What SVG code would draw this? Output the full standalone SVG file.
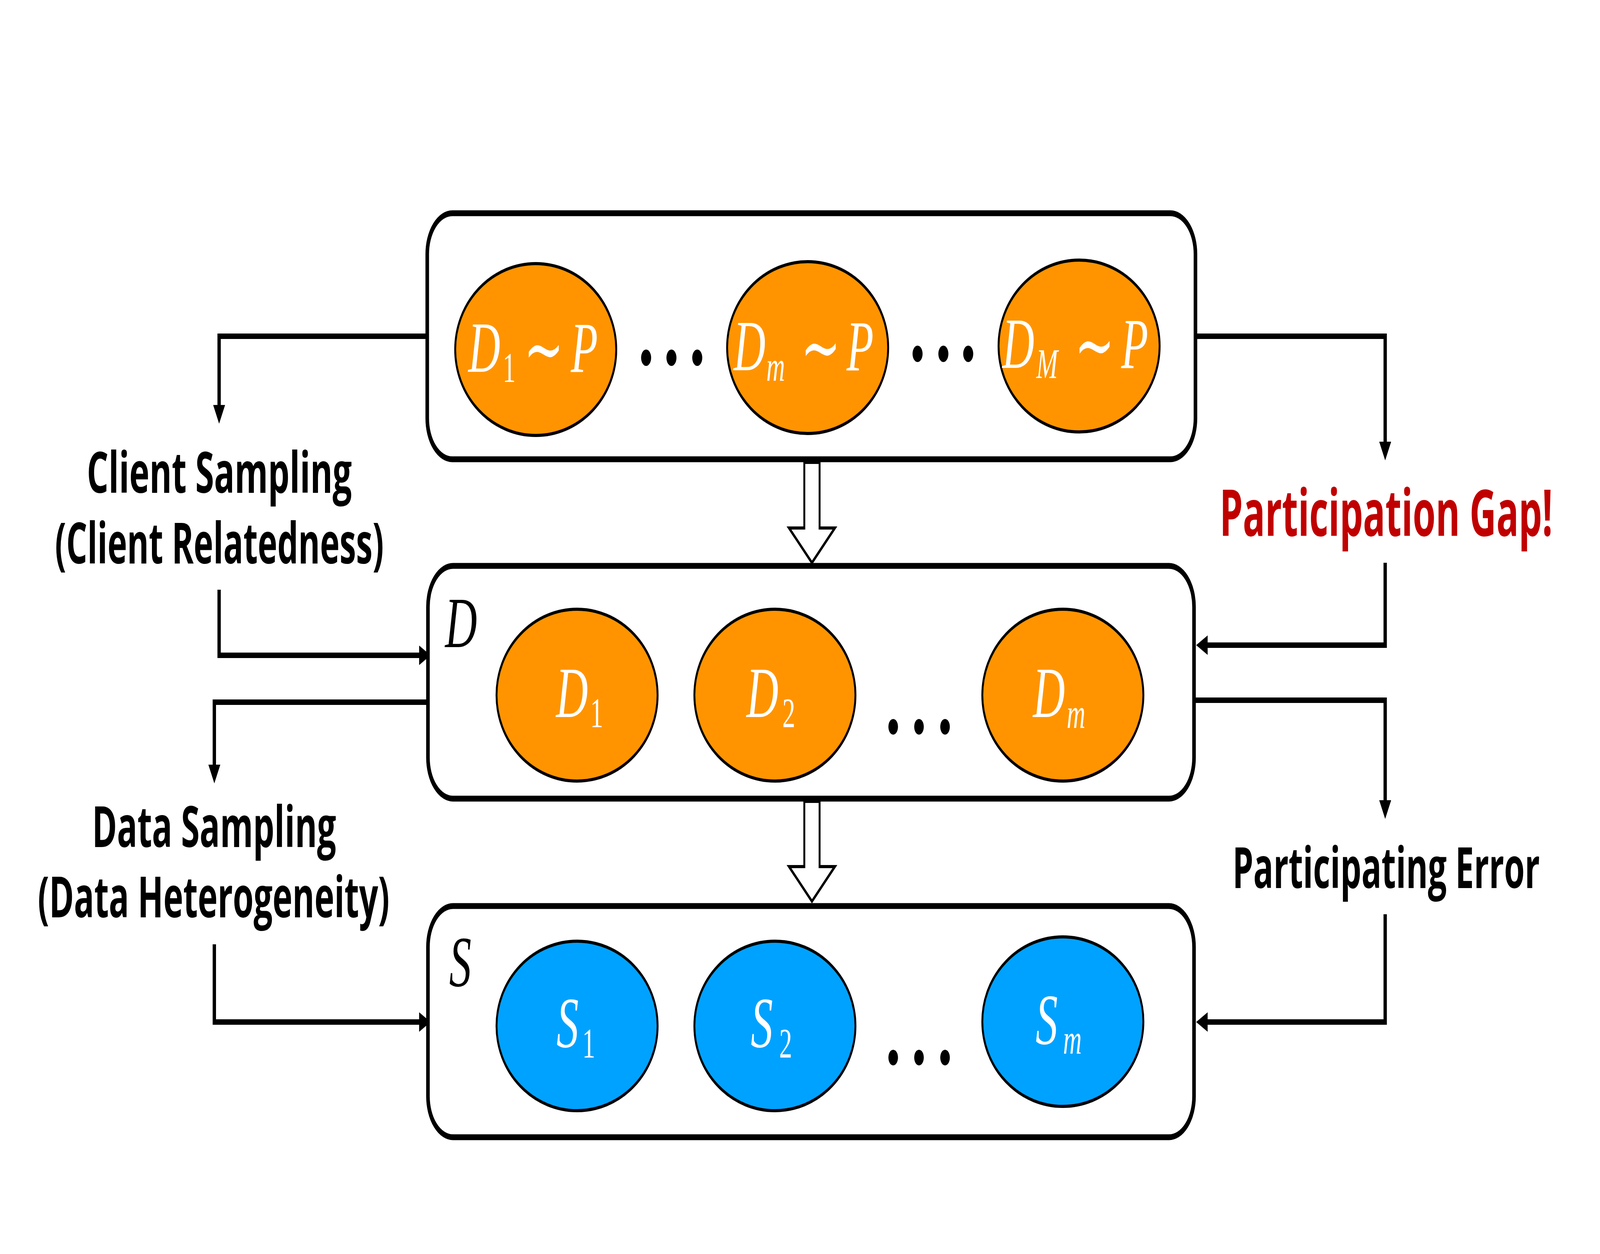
<svg xmlns="http://www.w3.org/2000/svg" width="6696" height="3211" viewBox="0 0 6696 3211" preserveAspectRatio="none">
<defs>
<style>
svg:root{width:100vw;height:100vh;display:block}
.box{fill:#fff;stroke:#000;stroke-width:15}
.eo{fill:#FF9400;stroke:#000;stroke-width:8}
.eb{fill:#00A2FF;stroke:#000;stroke-width:8}
.m{font-family:"Liberation Serif","DejaVu Serif",serif;font-style:italic;font-size:185px;fill:#fff}
.up{font-style:normal}
.sub{font-size:108px}
.tl{font-family:"DejaVu Serif","Liberation Serif",serif;font-style:normal;font-size:200px}
.lbl{font-family:"Liberation Serif","DejaVu Serif",serif;font-style:italic;font-size:185px;fill:#000}
.t{font-family:"Open Sans","Noto Sans","Liberation Sans",sans-serif;font-weight:bold;font-size:146px;fill:#000;text-anchor:middle}
.red{fill:#C00000;font-size:165px}
.con{fill:none;stroke:#000;stroke-width:14;marker-end:url(#ah)}
.hol{fill:#fff;stroke:#000;stroke-width:8;stroke-linejoin:miter}
.dot{fill:#000}
</style>
<marker id="ah" markerUnits="userSpaceOnUse" viewBox="0 0 48 50" markerWidth="48" markerHeight="50" refX="8" refY="25" orient="auto">
<path d="M0,0 L48,25 L0,50 z" fill="#000"/>
</marker>
</defs>
<rect width="6696" height="3211" fill="#fff"/>

<g id="connectors">
<path class="con" d="M1788,861 H917 V1045"/>
<path class="con" d="M917,1510 V1678 H1762"/>
<path class="con" d="M1791,1798 H897 V1966"/>
<path class="con" d="M897,2418 V2617 H1762"/>
<path class="con" d="M5003,861 H5797 V1139"/>
<path class="con" d="M5797,1441 V1652 H5046"/>
<path class="con" d="M4997,1793 H5797 V2057"/>
<path class="con" d="M5797,2341 V2617 H5046"/>
<path class="hol" d="M3366,1184 H3430 V1352 H3494 L3398,1441 L3302,1352 H3366 Z"/>
<path class="hol" d="M3366,2052 H3430 V2219 H3494 L3398,2308 L3302,2219 H3366 Z"/>
</g>

<g id="population">
<rect class="box" x="1788" y="546" width="3215" height="630" rx="105" ry="105"/>
<ellipse class="eo" cx="2242" cy="895" rx="337" ry="220"/>
<ellipse class="eo" cx="3380" cy="890" rx="337" ry="220"/>
<ellipse class="eo" cx="4516" cy="886" rx="337" ry="220"/>
<text class="m"><tspan x="1960" y="952">D</tspan><tspan class="up sub" x="2104" y="978">1</tspan><tspan class="tl" x="2192" y="962">∼</tspan><tspan x="2389" y="952">P</tspan></text>
<text class="m"><tspan x="3070" y="948">D</tspan><tspan class="sub" x="3207" y="975">m</tspan><tspan class="tl" x="3351" y="958">∼</tspan><tspan x="3543" y="948">P</tspan></text>
<text class="m"><tspan x="4195" y="942">D</tspan><tspan class="sub" x="4337" y="968">M</tspan><tspan class="tl" x="4497" y="952">∼</tspan><tspan x="4692" y="942">P</tspan></text>
<circle class="dot" cx="2704" cy="916" r="21"/><circle class="dot" cx="2810" cy="916" r="21"/><circle class="dot" cx="2918" cy="916" r="21"/>
<circle class="dot" cx="3840" cy="906" r="21"/><circle class="dot" cx="3948" cy="906" r="21"/><circle class="dot" cx="4052" cy="906" r="21"/>
</g>

<g id="clients">
<rect class="box" x="1791" y="1449" width="3206" height="596" rx="105" ry="105"/>
<text class="lbl" x="1863" y="1657">D</text>
<ellipse class="eo" cx="2415" cy="1780" rx="337" ry="220"/>
<ellipse class="eo" cx="3243" cy="1780" rx="337" ry="220"/>
<ellipse class="eo" cx="4448" cy="1780" rx="337" ry="220"/>
<text class="m"><tspan x="2327" y="1836">D</tspan><tspan class="up sub" x="2470" y="1862">1</tspan></text>
<text class="m"><tspan x="3124" y="1836">D</tspan><tspan class="up sub" x="3274" y="1862">2</tspan></text>
<text class="m"><tspan x="4323" y="1836">D</tspan><tspan class="sub" x="4464" y="1864">m</tspan></text>
<circle class="dot" cx="3738" cy="1861" r="20"/><circle class="dot" cx="3846" cy="1861" r="20"/><circle class="dot" cx="3955" cy="1861" r="20"/>
</g>

<g id="samples">
<rect class="box" x="1791" y="2320" width="3206" height="592" rx="105" ry="105"/>
<text class="lbl" x="1880" y="2525">S</text>
<ellipse class="eb" cx="2415" cy="2627" rx="337" ry="217"/>
<ellipse class="eb" cx="3243" cy="2627" rx="337" ry="217"/>
<ellipse class="eb" cx="4448" cy="2616" rx="337" ry="217"/>
<text class="m"><tspan x="2329" y="2681">S</tspan><tspan class="up sub" x="2437" y="2708">1</tspan></text>
<text class="m"><tspan x="3142" y="2681">S</tspan><tspan class="up sub" x="3261" y="2708">2</tspan></text>
<text class="m"><tspan x="4334" y="2673">S</tspan><tspan class="sub" x="4449" y="2698">m</tspan></text>
<circle class="dot" cx="3738" cy="2708" r="20"/><circle class="dot" cx="3846" cy="2708" r="20"/><circle class="dot" cx="3955" cy="2708" r="20"/>
</g>

<g id="client-sampling">
<text class="t" x="918" y="1262" textLength="1109" lengthAdjust="spacingAndGlyphs">Client Sampling</text>
<text class="t" x="918" y="1443" textLength="1376" lengthAdjust="spacingAndGlyphs">(Client Relatedness)</text>
</g>
<g id="data-sampling">
<text class="t" x="896" y="2169" textLength="1021" lengthAdjust="spacingAndGlyphs">Data Sampling</text>
<text class="t" x="894" y="2349" textLength="1472" lengthAdjust="spacingAndGlyphs">(Data Heterogeneity)</text>
</g>
<g id="participation-gap">
<text class="t red" x="5801" y="1372" textLength="1394" lengthAdjust="spacingAndGlyphs">Participation Gap!</text>
</g>
<g id="participating-error">
<text class="t" x="5801" y="2274" textLength="1286" lengthAdjust="spacingAndGlyphs">Participating Error</text>
</g>
</svg>
